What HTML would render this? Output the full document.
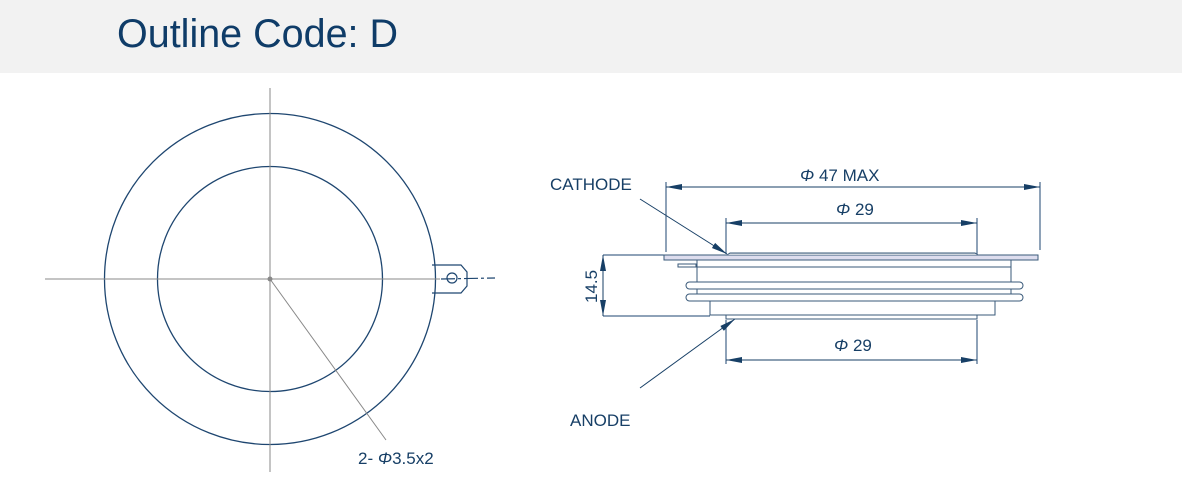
<!DOCTYPE html>
<html><head><meta charset="utf-8"><style>
body{margin:0;width:1182px;height:501px;background:#fff;overflow:hidden;font-family:"Liberation Sans",Arial,sans-serif}
.hdr{position:absolute;left:0;top:0;width:1182px;height:73px;background:#f2f2f2}
.hdr span{position:absolute;left:117px;top:12px;font-size:39.5px;color:#0f3c68;white-space:nowrap}
svg{position:absolute;left:0;top:0}
</style></head><body>
<div class="hdr"><span>Outline Code: D</span></div>
<svg width="1182" height="501" viewBox="0 0 1182 501">
<defs>
<marker id="a" markerWidth="16" markerHeight="8" refX="16" refY="4" orient="auto" markerUnits="userSpaceOnUse"><path d="M0,1 L16,4 L0,7 Z" fill="#173f66"/></marker>
</defs>
<g fill="none" stroke="#1e4670" stroke-width="1.3">
<circle cx="270" cy="279" r="165.5"/>
<circle cx="270" cy="279" r="112.5"/>
</g>
<g stroke="#888" stroke-width="1">
<line x1="270" y1="88" x2="270" y2="472"/>
<line x1="45" y1="279" x2="440" y2="279"/>
<line x1="270" y1="279" x2="386" y2="440"/>
</g>
<circle cx="270" cy="279" r="2.5" fill="#888"/>
<g fill="none" stroke="#1e4670" stroke-width="1.2">
<path d="M432,265 L461,265 L467,272 L467,286 L461,293 L432,293"/>
<circle cx="452" cy="278" r="5"/>
<line x1="441" y1="279" x2="495" y2="278" stroke-dasharray="14,3,3,3"/>
</g>
<text x="358" y="464" font-size="17" fill="#173f66">2- <tspan font-style="italic">Φ</tspan>3.5x2</text>

<g stroke="#1e4670" stroke-width="1" fill="none">
<line x1="666" y1="182" x2="666" y2="252"/>
<line x1="1040" y1="182" x2="1040" y2="250"/>
<line x1="726" y1="218" x2="726" y2="254"/>
<line x1="977" y1="218" x2="977" y2="254"/>
<line x1="603" y1="255" x2="664" y2="255"/>
<line x1="603" y1="316" x2="710" y2="316"/>
<line x1="726" y1="320" x2="726" y2="364"/>
<line x1="977" y1="320" x2="977" y2="364"/>
</g>
<g stroke="#173f66" stroke-width="1">
<line x1="700" y1="187" x2="666" y2="187" marker-end="url(#a)"/>
<line x1="700" y1="187" x2="1040" y2="187" marker-end="url(#a)"/>
<line x1="850" y1="223" x2="726" y2="223" marker-end="url(#a)"/>
<line x1="850" y1="223" x2="977" y2="223" marker-end="url(#a)"/>
<line x1="850" y1="360" x2="726" y2="360" marker-end="url(#a)"/>
<line x1="850" y1="360" x2="977" y2="360" marker-end="url(#a)"/>
<line x1="603" y1="285" x2="603" y2="255" marker-end="url(#a)"/>
<line x1="603" y1="285" x2="603" y2="316" marker-end="url(#a)"/>
<line x1="640" y1="199" x2="727" y2="254" marker-end="url(#a)"/>
<line x1="640" y1="388" x2="735" y2="319" marker-end="url(#a)"/>
</g>
<g fill="#fff" stroke="#3a5a7a" stroke-width="1">
<rect x="664" y="255" width="374" height="5" fill="#dde"/>
<path d="M727,255 L730,253 L975,253 L978,255" fill="#cfd6de"/>
<rect x="697" y="260" width="314" height="23"/>
<line x1="697" y1="267" x2="1011" y2="267"/>
<rect x="678" y="264" width="18" height="3"/>
<rect x="686" y="282" width="337" height="7" rx="3.5"/>
<rect x="697" y="289" width="314" height="5"/>
<rect x="686" y="294" width="337" height="7" rx="3.5"/>
<rect x="710" y="301" width="285" height="14"/>
<rect x="726" y="315" width="251" height="4"/>
</g>
<g font-size="17" fill="#173f66">
<text x="550" y="190">CATHODE</text>
<text x="570" y="426">ANODE</text>
<text x="800" y="181"><tspan font-style="italic">Φ</tspan> 47 MAX</text>
<text x="836" y="215"><tspan font-style="italic">Φ</tspan> 29</text>
<text x="834" y="351"><tspan font-style="italic">Φ</tspan> 29</text>
<text transform="translate(597,303) rotate(-90)">14.5</text>
</g>
</svg>
</body></html>
